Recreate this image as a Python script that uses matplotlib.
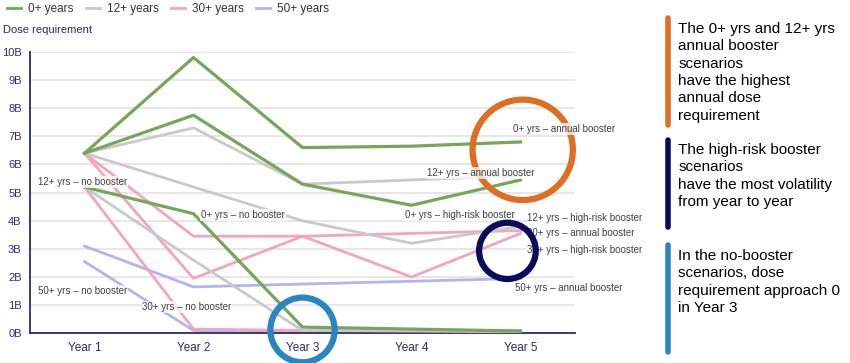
import matplotlib
matplotlib.use('Agg')
import matplotlib.pyplot as plt
from matplotlib.lines import Line2D
from matplotlib.patches import Ellipse

plt.rcParams['font.family'] = ['Liberation Sans', 'DejaVu Sans']

# ---------------- data (billions of doses) ----------------
years = ['Year 1', 'Year 2', 'Year 3', 'Year 4', 'Year 5']

g0_annual = [6.4, 9.8, 6.6, 6.65, 6.8]
g0_highrisk = [6.4, 7.75, 5.3, 4.55, 5.45]
g0_none = [5.2, 4.25, 0.22, 0.15, 0.08]

g12_annual = [6.4, 7.3, 5.3, 5.45, 5.6]
g12_highrisk = [6.4, 5.2, 4.0, 3.2, 3.8]
g12_none = [5.2, 2.6, 0.1, 0.1, 0.1]

g30_annual = [6.4, 3.45, 3.45, 3.55, 3.65]
g30_highrisk = [6.4, 1.95, 3.45, 2.0, 3.55]
g30_none = [5.2, 0.15, 0.1, 0.08, 0.05]

g50_annual = [3.1, 1.65, 1.75, 1.85, 1.95]
g50_none = [2.55, 0.1, 0.05, 0.05, 0.05]

groups = ['0+ years', '12+ years', '30+ years', '50+ years']
yticks = [0, 1, 2, 3, 4, 5, 6, 7, 8, 9, 10]
ytick_labels = ['%dB' % v for v in yticks]

green = '#76a65a'
gray = '#c9c9c9'
pink = '#f3a5b9'
purple = '#b3b3f2'
navy = '#2a2a72'

fig = plt.figure(figsize=(8.5, 3.63), dpi=100)
ax = fig.add_axes([0.0353, 0.0818, 0.6412, 0.7752])

x = list(range(len(years)))
lw = 2.0
for s in [g50_annual, g50_none]:
    ax.plot(x, s, color=purple, lw=lw, zorder=2)
for s in [g30_annual, g30_highrisk, g30_none]:
    ax.plot(x, s, color=pink, lw=lw, zorder=3)
for s in [g12_annual, g12_highrisk, g12_none]:
    ax.plot(x, s, color=gray, lw=lw, zorder=4)
for s in [g0_annual, g0_highrisk, g0_none]:
    ax.plot(x, s, color=green, lw=2.3, zorder=5)

ax.set_xlim(-0.5, 4.5)
ax.set_ylim(0, 10)
ax.set_yticks(yticks)
ax.set_yticklabels(ytick_labels, color=navy, fontsize=8)
ax.set_xticks(x)
ax.set_xticklabels(years, color=navy, fontsize=8.5)
ax.tick_params(length=0, pad=6)
ax.grid(axis='y', color='#e3e3e3', lw=1.2)
ax.set_axisbelow(True)
for sp in ['top', 'right']:
    ax.spines[sp].set_visible(False)
ax.spines['left'].set_color(navy)
ax.spines['bottom'].set_color(navy)
ax.spines['left'].set_linewidth(1.3)
ax.spines['bottom'].set_linewidth(1.3)

# series labels
labels = [
    ('12+ yrs \u2013 no booster', -0.43, 5.38),
    ('0+ yrs \u2013 no booster', 1.07, 4.2),
    ('50+ yrs \u2013 no booster', -0.43, 1.5),
    ('30+ yrs \u2013 no booster', 0.53, 0.93),
    ('0+ yrs \u2013 annual booster', 3.93, 7.26),
    ('12+ yrs \u2013 annual booster', 3.14, 5.7),
    ('0+ yrs \u2013 high-risk booster', 2.94, 4.2),
    ('12+ yrs \u2013 high-risk booster', 4.06, 4.1),
    ('30+ yrs \u2013 annual booster', 4.06, 3.57),
    ('30+ yrs \u2013 high-risk booster', 4.06, 2.96),
    ('50+ yrs \u2013 annual booster', 3.95, 1.61),
]
for txt, lx, ly in labels:
    ax.text(lx, ly, txt, fontsize=7, color='#3f3f3f', ha='left', va='center',
            zorder=6, clip_on=False,
            bbox=dict(facecolor='white', edgecolor='none', alpha=0.75, pad=0.5))

# highlight circles (orange sits under the labels, the others over them)
circles = [
    ((4.02, 6.52), 0.92, 3.57, '#df6d23', 5.5),
    ((3.88, 2.93), 0.52, 2.0, '#0b0b5e', 7),
    ((2.0, 0.12), 0.59, 2.3, '#2a86c0', 7),
]
for (cx, cy), w, h, c, z in circles:
    ax.add_patch(Ellipse((cx, cy), w, h, fill=False, edgecolor=c, lw=4.5,
                         zorder=z, clip_on=False))

# legend and axis title
handles = [Line2D([0], [0], color=c, lw=2) for c in [green, gray, pink, purple]]
fig.legend(handles, groups, loc='upper left', bbox_to_anchor=(-0.004, 1.02),
           ncol=4, frameon=False, fontsize=8.5, handlelength=1.2,
           handletextpad=0.6, columnspacing=1.0, labelcolor='#333333')
fig.text(0.004, 0.917, 'Dose requirement', color=navy, fontsize=8, va='center')

# right-hand commentary
notes = [
    ('#df6d23', 0.95, 0.655, 0.939,
     'The 0+ yrs and 12+ yrs\nannual booster\nscenarios\nhave the highest\nannual dose\nrequirement'),
    ('#0b0b5e', 0.615, 0.375, 0.606,
     'The high-risk booster\nscenarios\nhave the most volatility\nfrom year to year'),
    ('#2a86c0', 0.325, 0.03, 0.314,
     'In the no-booster\nscenarios, dose\nrequirement approach 0\nin Year 3'),
]
for c, y0, y1, ty, txt in notes:
    fig.add_artist(Line2D([0.786, 0.786], [y0, y1], transform=fig.transFigure,
                          color=c, lw=4, solid_capstyle='round'))
    fig.text(0.798, ty, txt, fontsize=11, color='black', va='top',
             ha='left', linespacing=1.3)

fig.savefig('out.png', dpi=100)
